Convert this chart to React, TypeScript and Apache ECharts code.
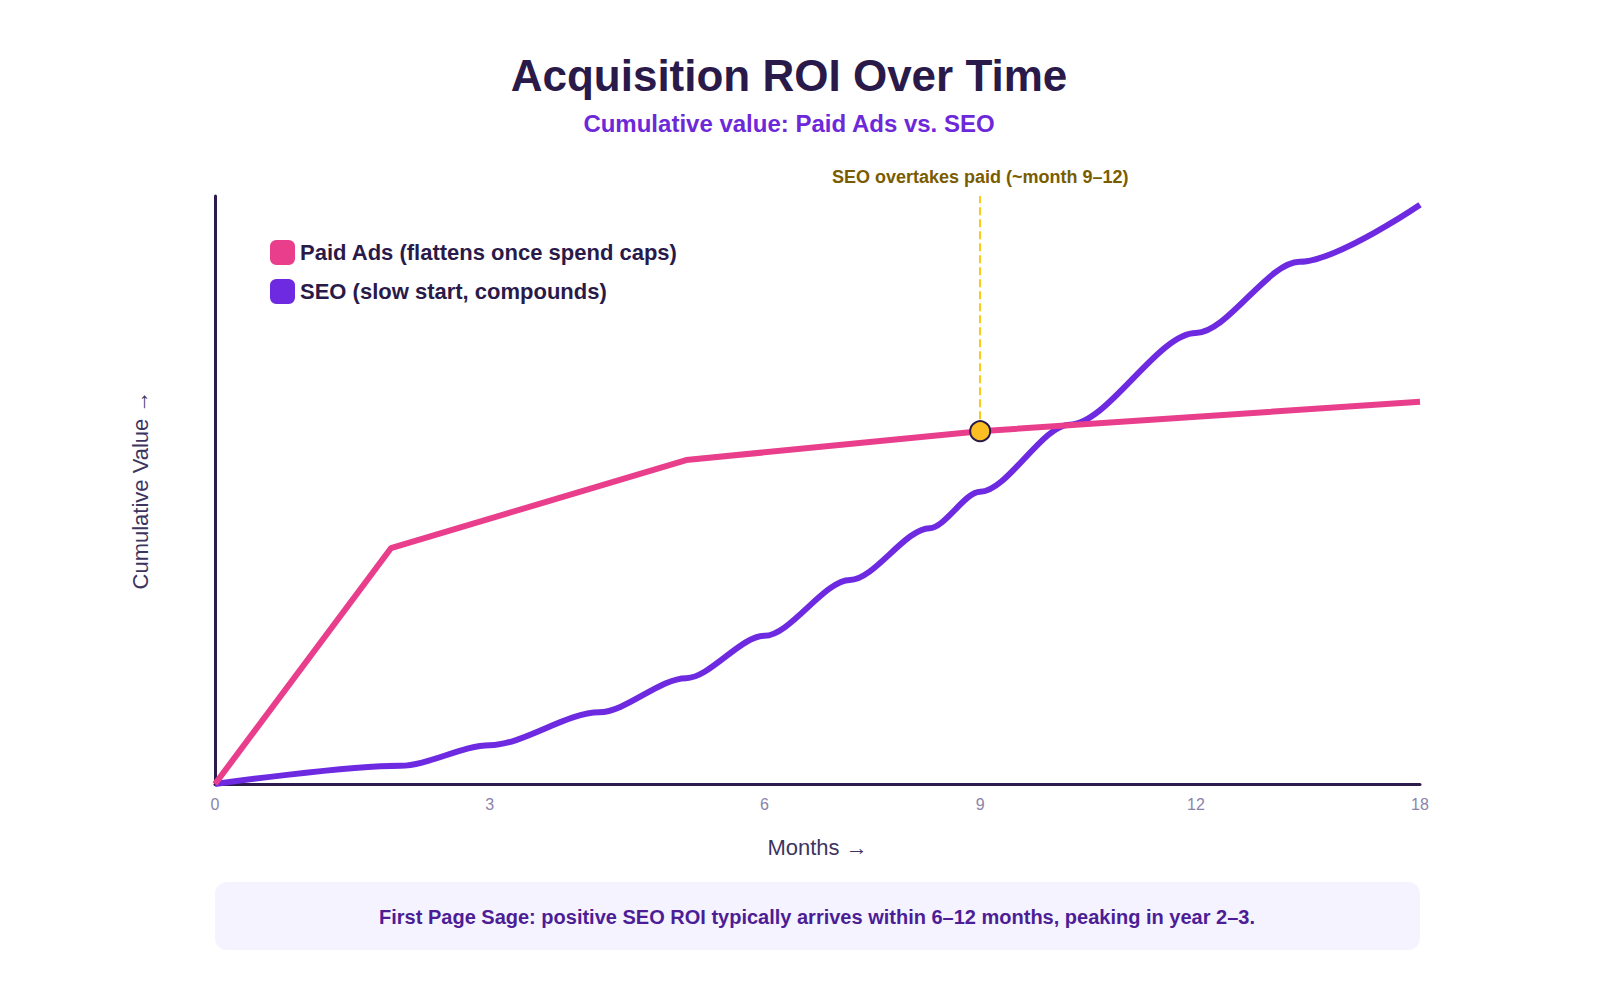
import React, { useEffect, useRef } from "react";
import * as echarts from "echarts";

// x values are horizontal positions (0–100) on the axis; tick labels are the months at those positions
const tickPositions = [0, 22.8, 45.6, 63.5, 81.4, 100];
const tickMonths = ["0", "3", "6", "9", "12", "18"];
const paidX = [0, 14.6, 39.1, 63.5, 100];
const paidY = [0, 40.1, 55.1, 60.0, 65.0];
const seoX = [0, 15.4, 22.8, 31.9, 39.1, 45.6, 52.7, 59.3, 63.5, 70.9, 81.4, 90.0, 100];
const seoY = [0, 3.1, 6.6, 12.2, 18.0, 25.2, 34.7, 43.5, 49.7, 61.1, 76.7, 88.8, 98.5];
const crossPoint = [63.5, 60.0];

export default function App() {
  const ref = useRef<HTMLDivElement>(null);
  useEffect(() => {
    const chart = echarts.init(ref.current!, null, { renderer: "svg" });
    const font = "Liberation Sans, Arial, sans-serif";
    chart.setOption({
      animation: false,
      textStyle: { fontFamily: font },
      title: {
        text: "Acquisition ROI Over Time",
        subtext: "Cumulative value: Paid Ads vs. SEO",
        left: 784,
        textAlign: "center",
        top: 48,
        itemGap: 14,
        textStyle: { fontSize: 44, fontWeight: "bold", color: "#2a1a4a", fontFamily: font },
        subtextStyle: { fontSize: 24, fontWeight: "bold", color: "#6d28d9", fontFamily: font },
      },
      legend: {
        left: 265,
        top: 235,
        orient: "vertical",
        itemWidth: 25,
        itemHeight: 25,
        itemGap: 14,
        icon: "roundRect",
        textStyle: { fontSize: 22, fontWeight: "bold", color: "#2a1a4a", fontFamily: font },
        data: ["Paid Ads (flattens once spend caps)", "SEO (slow start, compounds)"],
      },
      grid: { left: 215, right: 180, top: 196, bottom: 216 },
      xAxis: {
        type: "value",
        min: 0,
        max: 100,
        name: "Months →",
        nameLocation: "middle",
        nameGap: 52,
        nameTextStyle: { fontSize: 22, color: "#3d3560", fontFamily: font },
        axisLine: { lineStyle: { color: "#2d1b4e", width: 3 } },
        axisTick: { show: false },
        splitLine: { show: false },
        axisLabel: {
          customValues: tickPositions,
          formatter: (v: number) => {
            const i = tickPositions.indexOf(v);
            return i >= 0 ? tickMonths[i] : "";
          },
          color: "#8a84a8",
          fontSize: 16,
          margin: 12,
        },
      },
      yAxis: {
        type: "value",
        min: 0,
        max: 100,
        name: "Cumulative Value →",
        nameLocation: "middle",
        nameGap: 64,
        nameTextStyle: { fontSize: 22, color: "#3d3560", fontFamily: font },
        axisLine: { show: true, lineStyle: { color: "#2d1b4e", width: 3 } },
        axisTick: { show: false },
        axisLabel: { show: false },
        splitLine: { show: false },
      },
      series: [
        {
          name: "Paid Ads (flattens once spend caps)",
          type: "line",
          data: paidX.map((x, i) => [x, paidY[i]]),
          showSymbol: false,
          lineStyle: { color: "#e83e8c", width: 6 },
          itemStyle: { color: "#e83e8c" },
          z: 3,
        },
        {
          name: "SEO (slow start, compounds)",
          type: "line",
          smooth: 0.3,
          smoothMonotone: "x",
          data: seoX.map((x, i) => [x, seoY[i]]),
          showSymbol: false,
          lineStyle: { color: "#6d2ae0", width: 6 },
          itemStyle: { color: "#6d2ae0" },
          z: 2,
        },
        {
          type: "scatter",
          data: [crossPoint],
          symbolSize: 20,
          itemStyle: { color: "#fbbf24", opacity: 1, borderColor: "#2a1a4a", borderWidth: 2 },
          z: 5,
          markLine: {
            silent: true,
            symbol: "none",
            lineStyle: { color: "#facc15", type: "dashed", width: 2 },
            label: {
              show: true,
              position: "end",
              formatter: "SEO overtakes paid (~month 9–12)",
              color: "#7a5c00",
              fontSize: 18,
              fontWeight: "bold",
              distance: 10,
            },
            data: [[{ coord: [crossPoint[0], crossPoint[1]] }, { coord: [crossPoint[0], 100] }]],
          },
        },
      ],
      graphic: [
        {
          type: "rect",
          shape: { x: 215, y: 882, width: 1205, height: 68, r: 12 },
          style: { fill: "#f5f3ff" },
        },
        {
          type: "text",
          x: 817,
          y: 917,
          style: {
            text: "First Page Sage: positive SEO ROI typically arrives within 6–12 months, peaking in year 2–3.",
            fill: "#4c1d95",
            font: "bold 20px Liberation Sans, Arial, sans-serif",
            align: "center",
            verticalAlign: "middle",
          },
        },
      ],
    });
    return () => chart.dispose();
  }, []);
  return (
    <div
      ref={ref}
      style={{ position: "absolute", left: 0, top: 0, width: 1600, height: 1000, background: "#fff" }}
    />
  );
}
